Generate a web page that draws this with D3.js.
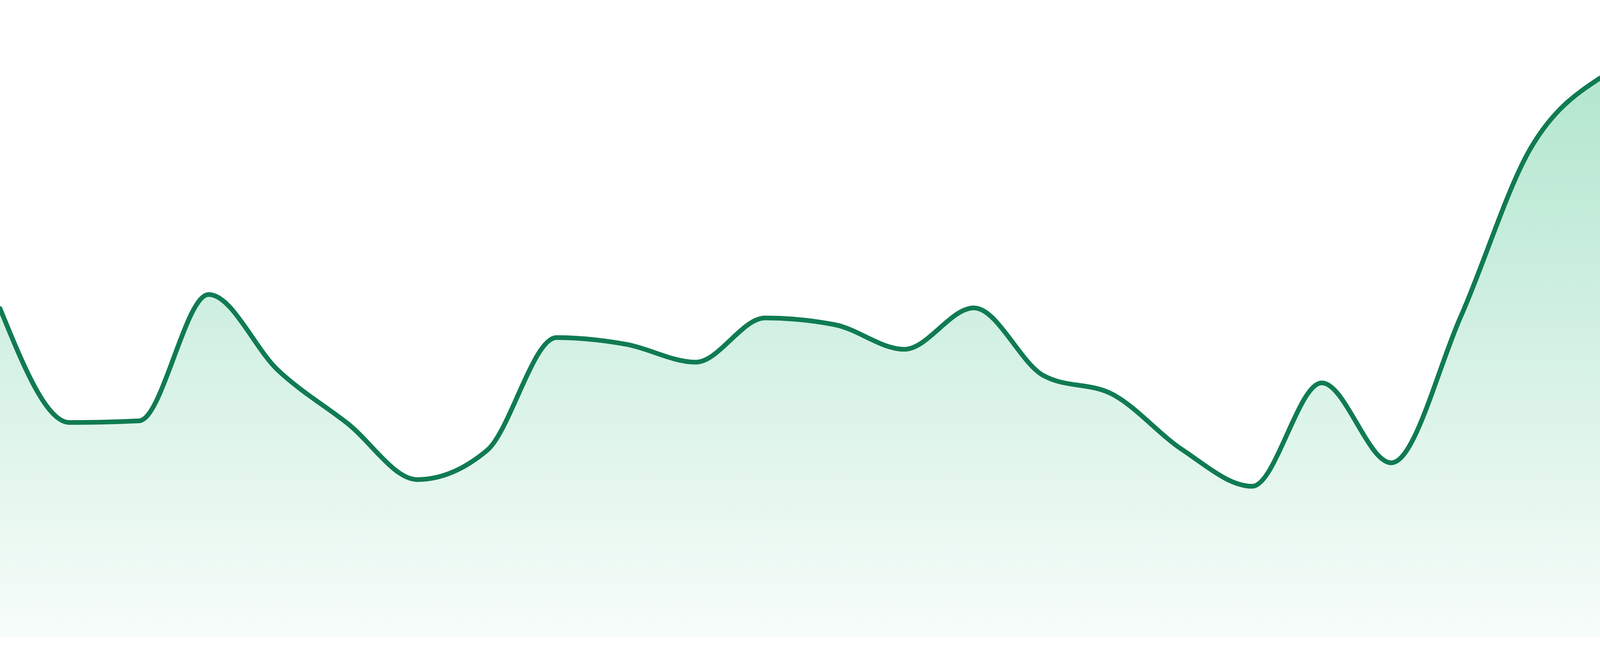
<!DOCTYPE html>
<html lang="en">

<head>
    <meta charset="UTF-8">
    <title>Area trend</title>
    <script src="https://cdn.jsdelivr.net/npm/d3@7"></script>
    <style>
        html, body {
            margin: 0;
            padding: 0;
            overflow: hidden;
            background: #ffffff;
        }

        svg {
            display: block;
        }
    </style>
</head>

<body>
    <svg></svg>

    <script>
        // categories (hours of the day) and the series values
        const hours = ["00:00", "01:00", "02:00", "03:00", "04:00", "05:00", "06:00", "07:00",
            "08:00", "09:00", "10:00", "11:00", "12:00", "13:00", "14:00", "15:00",
            "16:00", "17:00", "18:00", "19:00", "20:00", "21:00", "22:00", "23:00"];
        const values = [58.8, 38.4, 38.7, 61.3, 47.7, 38.2, 28.2, 33.4,
            53.6, 52.4, 49.2, 57.1, 55.9, 51.5, 58.9, 46.8,
            43.4, 33.5, 27.0, 45.5, 31.2, 57.4, 87.4, 100];
        const yDomain = [0, 100];

        // fill the whole window, the chart is drawn edge to edge
        const width = window.innerWidth || 4800;
        const height = window.innerHeight || 1680;
        const k = height / 1680;
        const margin = { top: 200 * k, right: 0, bottom: 48 * k, left: 0 };

        const svg = d3.select("svg")
            .attr("width", width)
            .attr("height", height);

        const data = hours.map((h, i) => ({ hour: h, value: values[i] }));

        const x = d3.scalePoint()
            .domain(hours)
            .range([margin.left, width - margin.right]);

        const y = d3.scaleLinear()
            .domain(yDomain)
            .range([height - margin.bottom, margin.top]);

        // vertical fade for the area fill
        const grad = svg.append("defs")
            .append("linearGradient")
            .attr("id", "fade")
            .attr("gradientUnits", "userSpaceOnUse")
            .attr("x1", 0).attr("x2", 0)
            .attr("y1", y(yDomain[1])).attr("y2", y(yDomain[0]));
        grad.append("stop").attr("offset", "0%")
            .attr("stop-color", "#26b876").attr("stop-opacity", 0.35);
        grad.append("stop").attr("offset", "100%")
            .attr("stop-color", "#26b876").attr("stop-opacity", 0.035);

        const area = d3.area()
            .x(d => x(d.hour))
            .y0(y(yDomain[0]))
            .y1(d => y(d.value))
            .curve(d3.curveMonotoneX);

        const line = d3.line()
            .x(d => x(d.hour))
            .y(d => y(d.value))
            .curve(d3.curveMonotoneX);

        svg.append("path")
            .datum(data)
            .attr("fill", "url(#fade)")
            .attr("d", area);

        svg.append("path")
            .datum(data)
            .attr("fill", "none")
            .attr("stroke", "#107b52")
            .attr("stroke-width", 12 * k)
            .attr("stroke-linecap", "round")
            .attr("stroke-linejoin", "round")
            .attr("d", line);
    </script>
</body>

</html>
